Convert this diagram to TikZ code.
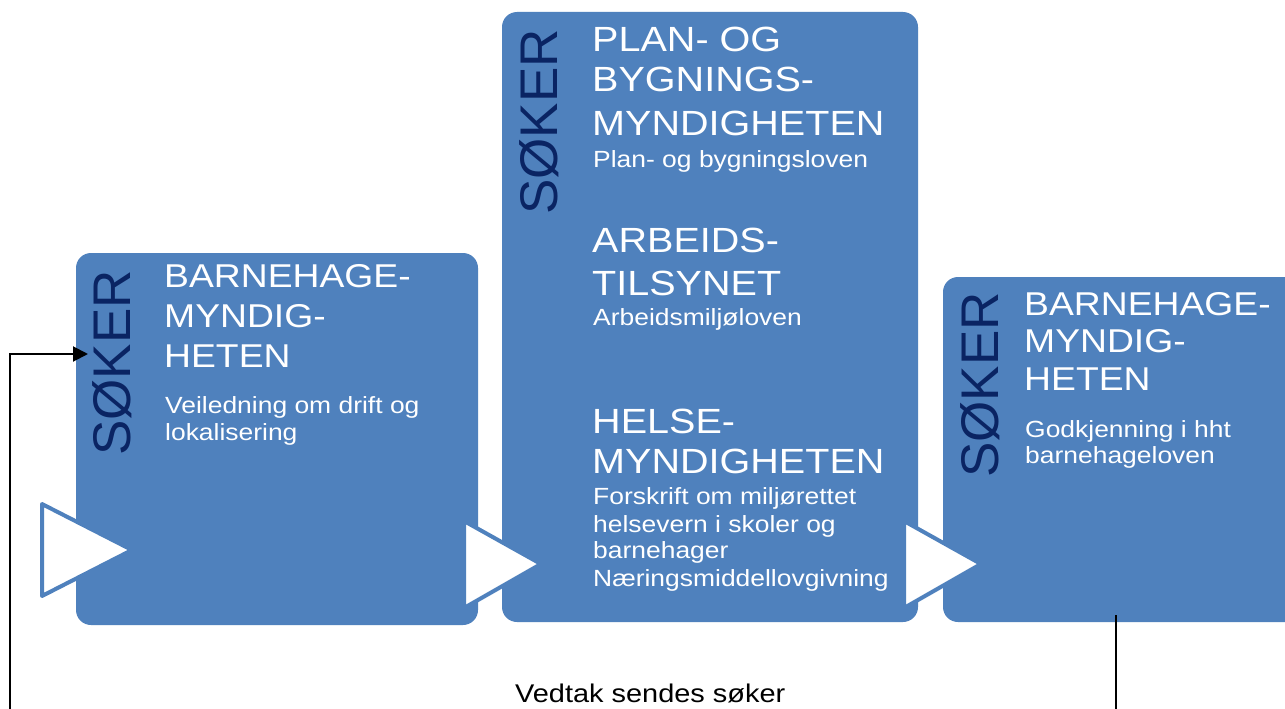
\documentclass[tikz,border=0pt]{standalone}
\usepackage{fontspec}
\setmainfont{Liberation Sans}
\newfontfamily\widefont[FakeStretch=1.13]{Liberation Sans}
\usetikzlibrary{arrows.meta}
\definecolor{boxblue}{HTML}{4F81BD}
\definecolor{navyblue}{HTML}{0A2463}
\begin{document}
\begin{tikzpicture}[x=1pt,y=-1pt,
  panel/.style={shape=rectangle, fill=boxblue, rounded corners=15pt, inner sep=0pt, draw=none},
  chevron/.style={fill=white, draw=boxblue, line width=4pt, line join=round},
  seeker/.style={rotate=90, text=navyblue, font=\fontsize{53}{53}\selectfont, inner sep=0pt},
  title/.style={anchor=base west, inner sep=0pt, text=white, font=\widefont\fontsize{33}{33}\selectfont},
  bigtitle/.style={anchor=base west, inner sep=0pt, text=white, font=\widefont\fontsize{35}{35}\selectfont},
  sub/.style={anchor=base west, inner sep=0pt, text=white, font=\widefont\fontsize{23.4}{23.4}\selectfont},
  caption/.style={anchor=base west, inner sep=0pt, text=black, font=\widefont\fontsize{25.6}{25.6}\selectfont},
  link/.style={line width=2pt, draw=black}]
\clip (0,0) rectangle (1285,709);
\fill[white] (0,0) rectangle (1285,709);
% panels
\node[panel, minimum width=402pt, minimum height=372pt] (p1) at (277,439) {};
\node[panel, minimum width=416pt, minimum height=610pt] (p2) at (710,317) {};
\node[panel, minimum width=370pt, minimum height=345pt] (p3) at (1128,449.5) {};
% chevrons
\draw[chevron] (42,504) -- (42,596) -- (132,550) -- cycle;
\draw[chevron] (464,521) -- (464,608) -- (541,564) -- cycle;
\draw[chevron] (904,521) -- (904,608) -- (981,564) -- cycle;
% vertical labels
\node[seeker] (s1) at (112,363) {SØKER};
\node[seeker] (s2) at (539,122) {SØKER};
\node[seeker] (s3) at (980,385) {SØKER};
% panel 1 text
\node[title] (a1) at (164,287) {BARNEHAGE-};
\node[title] (a2) at (164,327) {MYNDIG-};
\node[title] (a3) at (164,367) {HETEN};
\node[sub] (a4) at (165,413) {Veiledning om drift og};
\node[sub] (a5) at (165,440) {lokalisering};
% panel 2 text
\node[bigtitle] (b1) at (592,52) {PLAN- OG};
\node[bigtitle] (b2) at (592,92) {BYGNINGS-};
\node[bigtitle] (b3) at (592,135) {MYNDIGHETEN};
\node[sub] (b4) at (593,167) {Plan- og bygningsloven};
\node[bigtitle] (b5) at (592,252) {ARBEIDS-};
\node[bigtitle] (b6) at (592,295) {TILSYNET};
\node[sub] (b7) at (593,325) {Arbeidsmiljøloven};
\node[bigtitle] (b8) at (592,433) {HELSE-};
\node[bigtitle] (b9) at (592,473) {MYNDIGHETEN};
\node[sub] (b10) at (593,504) {Forskrift om miljørettet};
\node[sub] (b11) at (593,532) {helsevern i skoler og};
\node[sub] (b12) at (593,558) {barnehager};
\node[sub] (b13) at (593,586) {Næringsmiddellovgivning};
% panel 3 text
\node[title] (c1) at (1024,315) {BARNEHAGE-};
\node[title] (c2) at (1024,352) {MYNDIG-};
\node[title] (c3) at (1024,390) {HETEN};
\node[sub] (c4) at (1025,437) {Godkjenning i hht};
\node[sub] (c5) at (1025,463) {barnehageloven};
% return loop
\coordinate (loopIn) at (10,712);
\coordinate (entry) at (88,354);
\coordinate (outTop) at (1116,615);
\coordinate (outBottom) at (1116,712);
\draw[link, -{Triangle[length=15pt,width=15pt]}] (loopIn) |- (entry);
\draw[link] (outTop) -- (outBottom);
\node[caption] (vedtak) at (515,702) {Vedtak sendes søker};
\end{tikzpicture}
\end{document}
